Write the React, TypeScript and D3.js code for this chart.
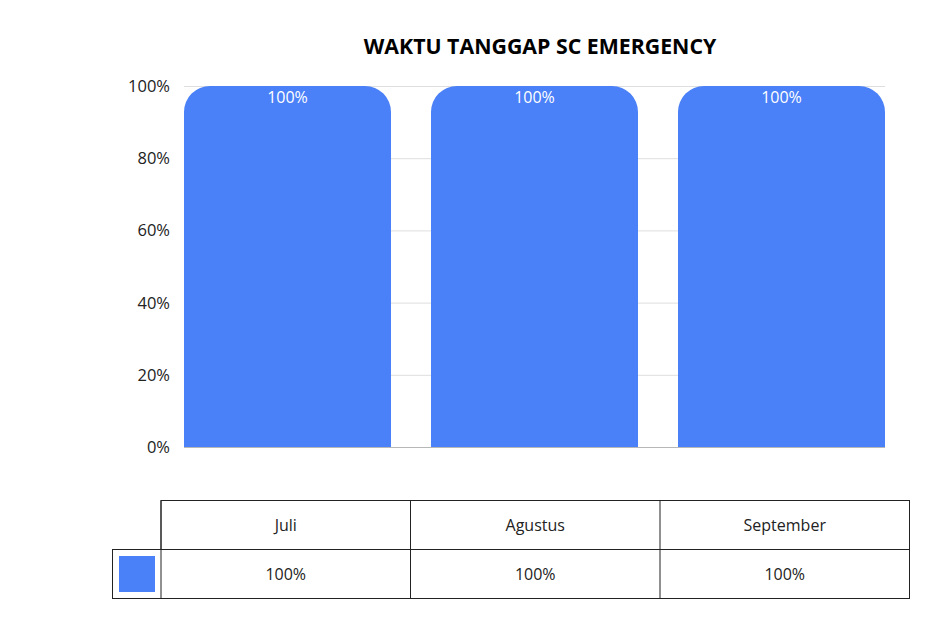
import { useEffect, useRef } from "react";
import * as d3 from "d3";

const months = ["Juli", "Agustus", "September"];
const values = [100, 100, 100];
const yTicks = [0, 20, 40, 60, 80, 100];
const title = "WAKTU TANGGAP SC EMERGENCY";

const BAR_COLOR = "#4a80f8";
const FONT = "'Open Sans', sans-serif";

export default function App() {
  const svgRef = useRef<SVGSVGElement>(null);

  useEffect(() => {
    const svg = d3.select(svgRef.current);
    svg.selectAll("*").remove();
    const width = 943;
    const height = 626;
    const plot = { left: 184, right: 885, top: 86, bottom: 447 };

    svg.attr("width", width).attr("height", height).style("background", "#fff");

    const x = d3
      .scaleBand()
      .domain(months)
      .range([plot.left, plot.right])
      .paddingInner(0.162)
      .paddingOuter(0);

    const y = d3.scaleLinear().domain([0, 100]).range([plot.bottom, plot.top]);

    // title
    svg
      .append("text")
      .attr("x", 540)
      .attr("y", 54)
      .attr("text-anchor", "middle")
      .style("font-family", FONT)
      .style("font-weight", "bold")
      .style("font-size", "21.3px")
      .attr("fill", "#000")
      .text(title);

    // gridlines
    svg
      .append("g")
      .selectAll("line")
      .data(yTicks)
      .enter()
      .append("line")
      .attr("x1", plot.left)
      .attr("x2", plot.right)
      .attr("y1", (d) => y(d) + 0.5)
      .attr("y2", (d) => y(d) + 0.5)
      .attr("stroke", (d) => (d === 0 ? "#b7b7b7" : "#dedede"))
      .attr("stroke-width", 1);

    // y tick labels
    svg
      .append("g")
      .selectAll("text")
      .data(yTicks)
      .enter()
      .append("text")
      .attr("x", 170)
      .attr("y", (d) => y(d) + 6)
      .attr("text-anchor", "end")
      .style("font-family", FONT)
      .style("font-size", "16.5px")
      .attr("fill", "#222")
      .text((d) => d + "%");

    // bars with rounded top corners
    const r = 26;
    const barPath = (x0: number, w: number, top: number, bottom: number) => {
      const p = d3.path();
      p.moveTo(x0, bottom);
      p.lineTo(x0, top + r);
      p.arcTo(x0, top, x0 + r, top, r);
      p.lineTo(x0 + w - r, top);
      p.arcTo(x0 + w, top, x0 + w, top + r, r);
      p.lineTo(x0 + w, bottom);
      p.closePath();
      return p.toString();
    };

    svg
      .append("g")
      .selectAll("path")
      .data(values)
      .enter()
      .append("path")
      .attr("d", (d, i) =>
        barPath(x(months[i])!, x.bandwidth(), y(d), y(0))
      )
      .attr("fill", BAR_COLOR);

    // data labels
    svg
      .append("g")
      .selectAll("text")
      .data(values)
      .enter()
      .append("text")
      .attr("x", (d, i) => x(months[i])! + x.bandwidth() / 2)
      .attr("y", (d) => y(d) + 17)
      .attr("text-anchor", "middle")
      .style("font-family", FONT)
      .style("font-size", "16px")
      .attr("fill", "#fff")
      .text((d) => d + "%");

    // data table
    const cols = [161, 410.5, 660, 909.5];
    const rows = [500.5, 549.5, 598.5];
    const legendLeft = 112.5;
    const t = svg.append("g").attr("fill", "none").attr("stroke", "#222").attr("stroke-width", 1);

    // header row box
    t.append("rect")
      .attr("x", cols[0])
      .attr("y", rows[0])
      .attr("width", cols[3] - cols[0])
      .attr("height", rows[1] - rows[0]);
    // value row box incl. legend cell
    t.append("rect")
      .attr("x", legendLeft)
      .attr("y", rows[1])
      .attr("width", cols[3] - legendLeft)
      .attr("height", rows[2] - rows[1]);
    [cols[0], cols[1], cols[2]].forEach((cx) => {
      t.append("line")
        .attr("x1", cx)
        .attr("x2", cx)
        .attr("y1", rows[0])
        .attr("y2", rows[2]);
    });

    svg
      .append("rect")
      .attr("x", 119)
      .attr("y", 556)
      .attr("width", 36)
      .attr("height", 36)
      .attr("fill", BAR_COLOR);

    const cellText = svg.append("g");
    months.forEach((m, i) => {
      const cx = (cols[i] + cols[i + 1]) / 2;
      cellText
        .append("text")
        .attr("x", cx)
        .attr("y", (rows[0] + rows[1]) / 2 + 5.5)
        .attr("text-anchor", "middle")
        .style("font-family", FONT)
        .style("font-size", "16px")
        .attr("fill", "#222")
        .text(m);
      cellText
        .append("text")
        .attr("x", cx)
        .attr("y", (rows[1] + rows[2]) / 2 + 5.5)
        .attr("text-anchor", "middle")
        .style("font-family", FONT)
        .style("font-size", "16px")
        .attr("fill", "#222")
        .text(values[i] + "%");
    });
  }, []);

  return (
    <div style={{ position: "absolute", left: 0, top: 0 }}>
      <svg ref={svgRef} style={{ display: "block" }}></svg>
    </div>
  );
}
